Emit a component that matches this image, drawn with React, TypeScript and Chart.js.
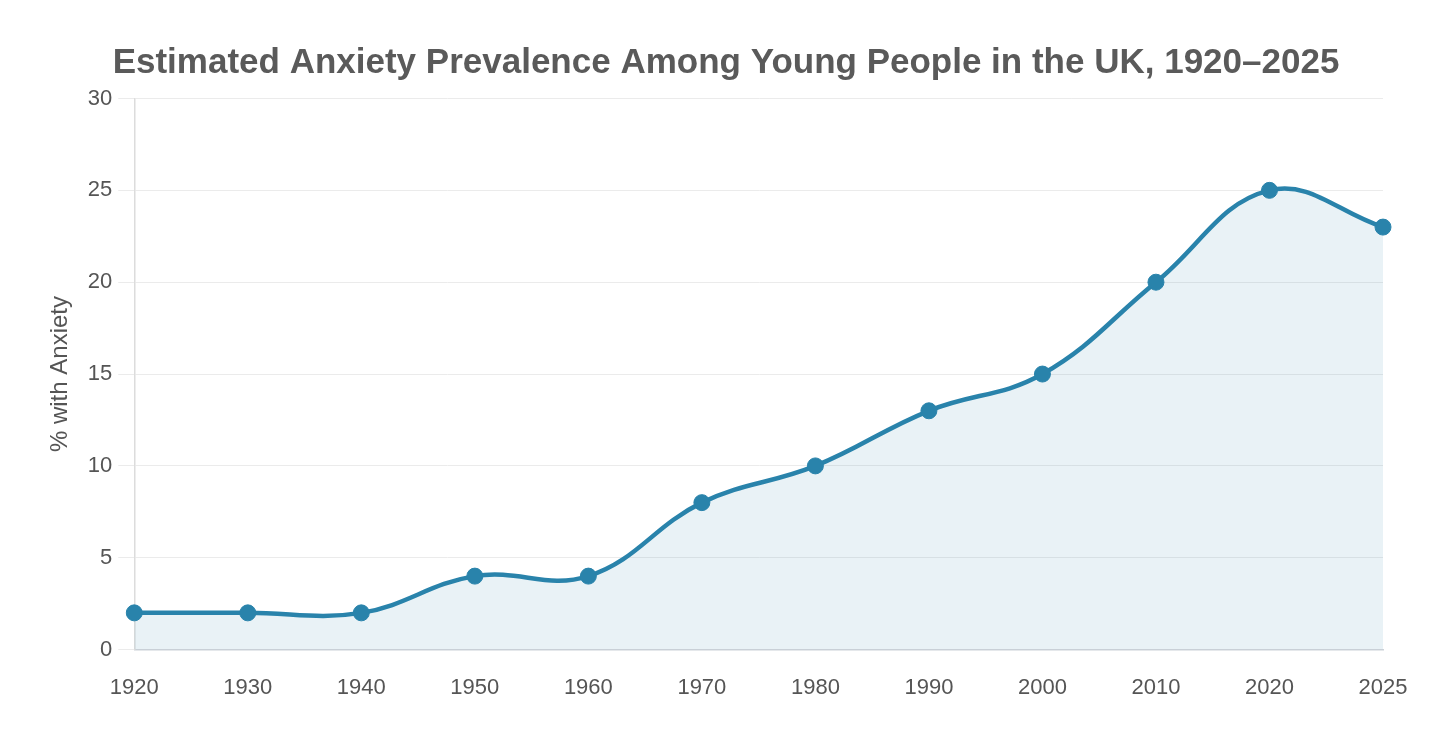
import React, { useEffect, useRef } from "react";
import { Chart, registerables } from "chart.js";

Chart.register(...registerables);

const years = ["1920", "1930", "1940", "1950", "1960", "1970", "1980", "1990", "2000", "2010", "2020", "2025"];
const anxietyPct = [2, 2, 2, 4, 4, 8, 10, 13, 15, 20, 25, 23];
const yTicks = [0, 5, 10, 15, 20, 25, 30];

const FONT = "'Liberation Sans', Arial, Helvetica, sans-serif";
const LINE = "rgb(41,131,171)";

const centerTitle = {
  id: "centerTitle",
  afterLayout(chart: any) {
    const t = chart.titleBlock;
    if (t) {
      t.left = 0;
      t.right = chart.width - 4;
      t.width = chart.width - 4;
    }
  },
};

export default function App() {
  const ref = useRef<HTMLCanvasElement | null>(null);
  useEffect(() => {
    if (!ref.current) return;
    const chart = new Chart(ref.current, {
      type: "line",
      data: {
        labels: years,
        datasets: [
          {
            data: anxietyPct,
            borderColor: LINE,
            backgroundColor: "rgba(41,131,171,0.1)",
            pointBackgroundColor: LINE,
            pointBorderColor: LINE,
            pointRadius: 8,
            pointBorderWidth: 1,
            borderWidth: 4.5,
            tension: 0.4,
            fill: "origin",
          },
        ],
      },
      options: {
        animation: false,
        responsive: true,
        maintainAspectRatio: false,
        layout: { padding: { left: 38, right: 65, top: 17, bottom: 9 } },
        plugins: {
          legend: { display: false },
          tooltip: { enabled: false },
          title: {
            display: true,
            text: "Estimated Anxiety Prevalence Among Young People in the UK, 1920–2025",
            color: "#5a5a5a",
            font: { family: FONT, size: 35, weight: "bold" },
            padding: { top: 17, bottom: 14.5 },
          },
        },
        scales: {
          x: {
            offset: false,
            grid: { display: false },
            border: { display: true, color: "#ccd2d8", width: 1.5 },
            ticks: { color: "#555", font: { family: FONT, size: 22 }, padding: 17.5, maxRotation: 0 },
          },
          y: {
            min: 0,
            max: 30,
            afterBuildTicks: (axis: any) => {
              axis.ticks = yTicks.map((v) => ({ value: v }));
            },
            grid: { color: "#ebebeb", lineWidth: 1, tickLength: 16, drawTicks: true },
            border: { display: true, color: "#dcdcdc", width: 1.5 },
            ticks: { color: "#555", font: { family: FONT, size: 22 }, padding: 6 },
            title: {
              display: true,
              text: "% with Anxiety",
              color: "#555",
              font: { family: FONT, size: 24 },
              padding: { top: 0, bottom: 7 },
            },
          },
        },
      },
      plugins: [centerTitle],
    });
    return () => chart.destroy();
  }, []);
  return (
    <div style={{ width: 1440, height: 720, position: "relative" }}>
      <canvas ref={ref} />
    </div>
  );
}
